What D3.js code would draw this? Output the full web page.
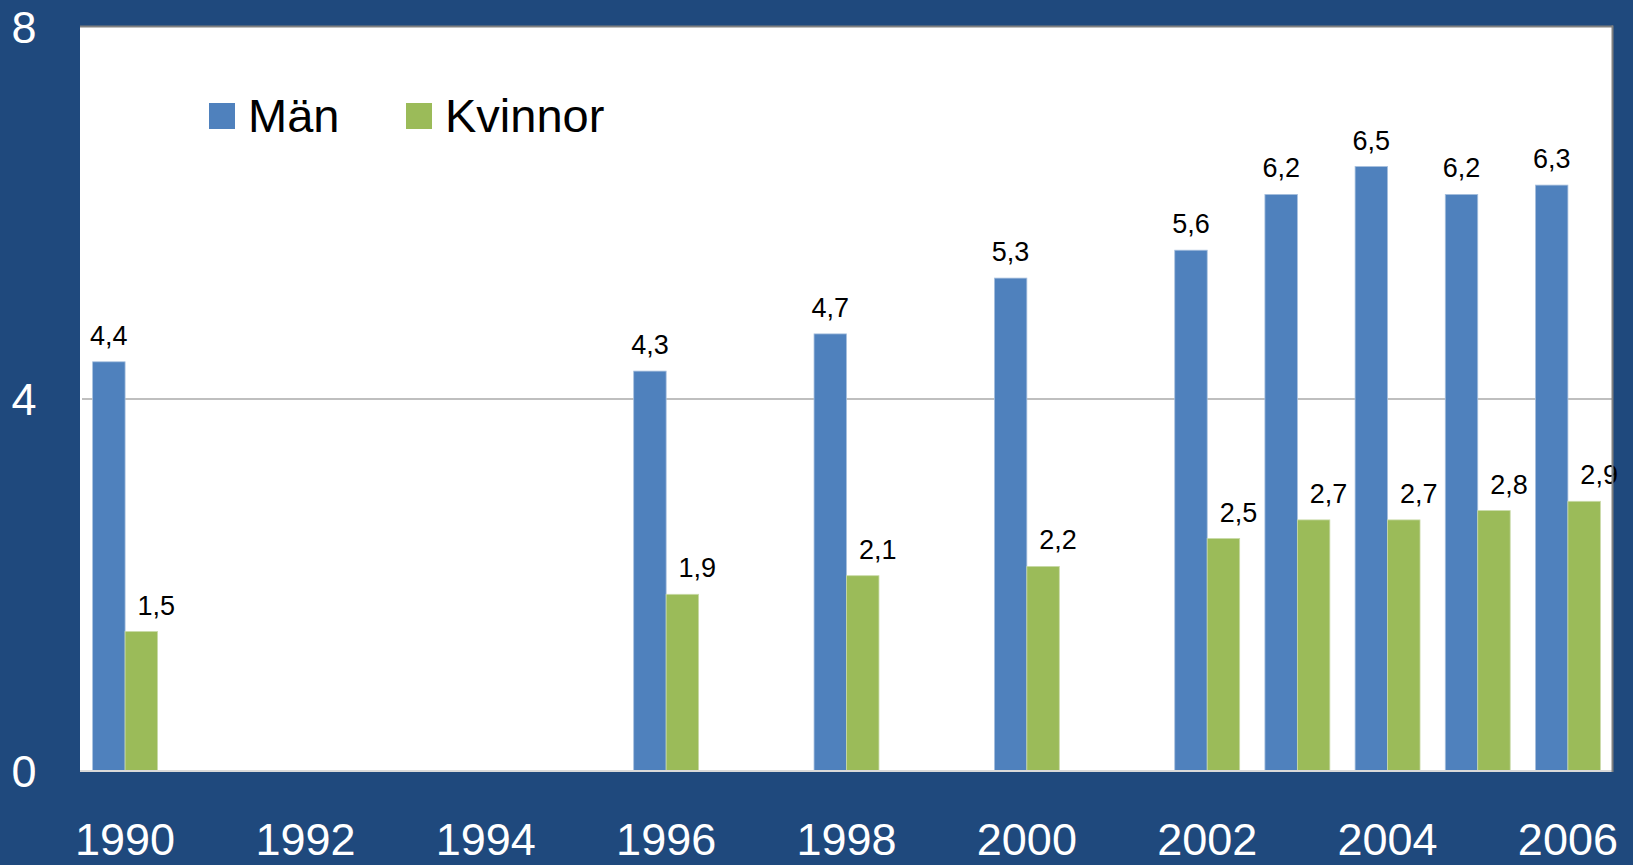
<!DOCTYPE html>
<html><head><meta charset="utf-8">
<script src="https://cdn.jsdelivr.net/npm/d3@7"></script>
<style>html,body{margin:0;padding:0;background:#1F497D;overflow:hidden}</style>
</head><body>
<svg id="c" width="1633" height="865"></svg>
<script>
const years = ["1990","1991","1992","1993","1994","1995","1996","1997","1998","1999","2000","2001","2002","2003","2004","2005","2006"];
const man     = [4.4,null,null,null,null,null,4.3,null,4.7,null,5.3,null,5.6,6.2,6.5,6.2,6.3];
const kvinnor = [1.5,null,null,null,null,null,1.9,null,2.1,null,2.2,null,2.5,2.7,2.7,2.8,2.9];
const seriesNames = ["Män","Kvinnor"];
const seriesColors = ["#4F81BD","#9BBB59"];
const yTicks = [0,4,8];
const xTickLabels = ["1990","1992","1994","1996","1998","2000","2002","2004","2006"];

const svg = d3.select("#c");
const W = 1633, H = 865;
const L = 80, R = 1613, T = 27, B = 771;
const font = "'Liberation Sans', Arial, Helvetica, sans-serif";

svg.append("rect").attr("width",W).attr("height",H).attr("fill","#1F497D");
svg.append("rect").attr("x",L).attr("y",T).attr("width",R-L).attr("height",B-T+1).attr("fill","#fff");

const x0 = d3.scaleBand().domain(years).range([L,R]).paddingInner(0.28).paddingOuter(0.14);
const x1 = d3.scaleBand().domain(seriesNames).range([0,x0.bandwidth()]).padding(0);
const y = d3.scaleLinear().domain([0,8]).range([B,T]);

// gridline at 4
svg.append("g").selectAll("line").data(yTicks.filter(v=>v>0 && v<8)).join("line")
  .attr("x1",L+2).attr("x2",R-1).attr("y1",d=>y(d)).attr("y2",d=>y(d))
  .attr("stroke","#BFBFBF").attr("stroke-width",2);

const seriesData = [man,kvinnor];
seriesData.forEach((vals,si)=>{
  const g = svg.append("g");
  const pts = years.map((yr,i)=>({yr,v:vals[i]})).filter(d=>d.v!=null);
  g.selectAll("rect").data(pts).join("rect")
    .attr("x",d=>x0(d.yr)+x1(seriesNames[si]))
    .attr("width",x1.bandwidth())
    .attr("y",d=>y(d.v))
    .attr("height",d=>B-y(d.v))
    .attr("fill",seriesColors[si])
    .attr("stroke", si===0 ? "#A7C0DE" : "#C9DAA8")
    .attr("stroke-width",0.8);
  g.selectAll("text").data(pts).join("text")
    .attr("x",d=>x0(d.yr)+x1(seriesNames[si])+x1.bandwidth()/2 + (si===1?15:0))
    .attr("y",d=>y(d.v)-17)
    .attr("text-anchor","middle")
    .attr("font-family",font).attr("font-size",27).attr("fill","#000")
    .text(d=>d3.format(".1f")(d.v).replace(".",","));
});

// bottom axis line
svg.append("line").attr("x1",L).attr("x2",R).attr("y1",B).attr("y2",B)
  .attr("stroke","#D9D9D9").attr("stroke-width",2);
// top & right border
svg.append("line").attr("x1",L).attr("x2",R).attr("y1",T-0.5).attr("y2",T-0.5)
  .attr("stroke","#808080").attr("stroke-width",2);
svg.append("line").attr("x1",R-0.5).attr("x2",R-0.5).attr("y1",T-1.5).attr("y2",B+1)
  .attr("stroke","#808080").attr("stroke-width",2);

// y axis labels
const yAxis = d3.axisLeft(y).tickValues(yTicks).tickSize(0).tickFormat(d3.format("d"));
const ya = svg.append("g").attr("transform",`translate(${L},0)`).call(yAxis);
ya.select(".domain").remove();
ya.selectAll("text").attr("x",-56).attr("dy","0.35em").attr("text-anchor","middle")
  .attr("font-family",font).attr("font-size",45).attr("fill","#fff");

// x axis labels
const xAxis = d3.axisBottom(x0).tickValues(xTickLabels).tickSize(0);
const xa = svg.append("g").attr("transform",`translate(0,${B})`).call(xAxis);
xa.select(".domain").remove();
xa.selectAll("text").attr("y",84).attr("dy",0)
  .attr("font-family",font).attr("font-size",45).attr("fill","#fff");

// legend
const legendX = [209,406];
const lg = svg.append("g");
seriesNames.forEach((n,i)=>{
  lg.append("rect").attr("x",legendX[i]).attr("y",103).attr("width",26).attr("height",26).attr("fill",seriesColors[i]);
  lg.append("text").attr("x",legendX[i]+39).attr("y",132)
    .attr("font-family",font).attr("font-size",47).attr("fill","#000").text(n);
});
</script>
</body></html>
